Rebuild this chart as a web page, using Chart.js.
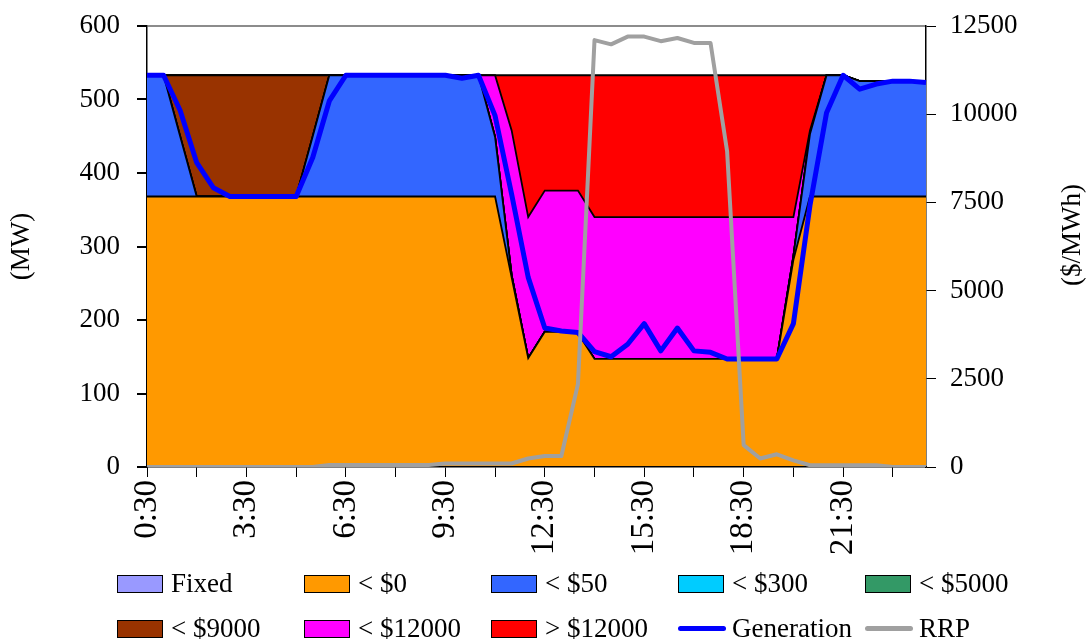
<!DOCTYPE html>
<html>
<head>
<meta charset="utf-8">
<script src="https://cdn.jsdelivr.net/npm/chart.js@4.4.1/dist/chart.umd.min.js"></script>
<style>
  html, body { margin: 0; padding: 0; background: #fff; }
  #wrap { position: relative; width: 1088px; height: 641px; overflow: hidden; }
  #chart { position: absolute; left: 0; top: 0; }
  #legend {
    position: absolute; left: 117px; top: 561px;
    display: grid; grid-template-columns: repeat(5, 187px);
    font-family: "Liberation Serif", serif; font-size: 27px; color: #000;
  }
  .item { display: flex; align-items: center; height: 45px; white-space: nowrap; }
  .box { width: 46px; height: 18px; border: 1.5px solid #000; box-sizing: border-box; margin-right: 8px; }
  .line { width: 48px; height: 5px; border-radius: 3px; margin-right: 6px; }
</style>
</head>
<body>
<div id="wrap">
  <canvas id="chart" width="1088" height="641"></canvas>
  <div id="legend"></div>
</div>
<script>
// half-hourly trading intervals
var timeLabels = ["0:30","1:00","1:30","2:00","2:30","3:00","3:30","4:00","4:30","5:00","5:30","6:00",
  "6:30","7:00","7:30","8:00","8:30","9:00","9:30","10:00","10:30","11:00","11:30","12:00",
  "12:30","13:00","13:30","14:00","14:30","15:00","15:30","16:00","16:30","17:00","17:30","18:00",
  "18:30","19:00","19:30","20:00","20:30","21:00","21:30","22:00","22:30","23:00","23:30","0:00"];

// offered capacity by price band (MW)
var fixedMW = [0,0,0,0,0,0,0,0,0,0,0,0,0,0,0,0,0,0,0,0,0,0,0,0,0,0,0,0,0,0,0,0,0,0,0,0,0,0,0,0,0,0,0,0,0,0,0,0];
var below0 = [368,368,368,368,368,368,368,368,368,368,368,368,368,368,368,368,368,368,368,368,368,368,
  258,148,184,184,182,147,147,147,147,147,147,147,147,147,147,147,147,282,368,368,368,368,368,368,368,368];
var below50 = [165,165,82,0,0,0,0,0,0,0,82,165,165,165,165,165,165,165,165,165,165,81,3,
  0,0,0,0,0,0,0,0,0,0,0,0,0,0,0,0,5,85,165,165,157,157,157,157,157];
var below300 = [0,0,0,0,0,0,0,0,0,0,0,0,0,0,0,0,0,0,0,0,0,0,0,0,0,0,0,0,0,0,0,0,0,0,0,0,0,0,0,0,0,0,0,0,0,0,0,0];
var below5000 = [0,0,0,0,0,0,0,0,0,0,0,0,0,0,0,0,0,0,0,0,0,0,0,0,0,0,0,0,0,0,0,0,0,0,0,0,0,0,0,0,0,0,0,0,0,0,0,0];
var below9000 = [0,0,83,165,165,165,165,165,165,165,83,0,0,0,0,0,0,0,0,0,0,0,0,0,
  0,0,0,0,0,0,0,0,0,0,0,0,0,0,0,0,0,0,0,0,0,0,0,0];
var below12000 = [0,0,0,0,0,0,0,0,0,0,0,0,0,0,0,0,0,0,0,0,0,84,197,192,192,192,194,
  193,193,193,193,193,193,193,193,193,193,193,193,53,5,0,0,0,0,0,0,0];
var above12000 = [0,0,0,0,0,0,0,0,0,0,0,0,0,0,0,0,0,0,0,0,0,0,75,193,157,157,157,
  193,193,193,193,193,193,193,193,193,193,193,193,193,75,0,0,0,0,0,0,0];

var generation = [533,533,485,414,380,368,368,368,368,368,421,498,533,533,533,533,533,533,533,529,533,478,
  371,258,189,185,183,157,150,167,195,158,189,158,156,147,147,147,147,195,356,482,533,514,521,525,525,523];
// regional reference price ($/MWh)
var rrp = [0,0,0,0,0,0,0,0,0,0,0,60,60,60,60,60,60,60,100,100,100,100,100,240,310,310,2350,
  12100,11980,12200,12200,12070,12160,12020,12020,8950,620,240,360,190,50,50,50,50,50,0,0,0];

var font = "Liberation Serif";

function areaSet(label, data, color, first) {
  return {
    label: label,
    data: data,
    backgroundColor: color,
    borderColor: "#000",
    borderWidth: 1.8,
    fill: first ? "origin" : "-1",
    pointRadius: 0,
    tension: 0,
    stack: "mw",
    order: 2,
    yAxisID: "y",
  };
}

// keep the label padding from pushing the plot area down
function fixPadding(scale) {
  scale.paddingTop = 10;
  scale.paddingBottom = 10;
}

// right hand axis title reads bottom to top, like the left one
var rightTitle = {
  id: "rightTitle",
  afterDraw: function (chart) {
    var ctx = chart.ctx;
    ctx.save();
    ctx.translate(1073, 235);
    ctx.rotate(-Math.PI / 2);
    ctx.font = "27px '" + font + "'";
    ctx.fillStyle = "#000";
    ctx.textAlign = "center";
    ctx.textBaseline = "middle";
    ctx.fillText("($/MWh)", 0, 0);
    ctx.restore();
  },
};

var ctx = document.getElementById("chart").getContext("2d");
var myChart = new Chart(ctx, {
  type: "line",
  data: {
    labels: timeLabels,
    datasets: [
      areaSet("Fixed", fixedMW, "#9999FF", true),
      areaSet("< $0", below0, "#FF9900"),
      areaSet("< $50", below50, "#3366FF"),
      areaSet("< $300", below300, "#00CCFF"),
      areaSet("< $5000", below5000, "#339966"),
      areaSet("< $9000", below9000, "#993300"),
      areaSet("< $12000", below12000, "#FF00FF"),
      areaSet("> $12000", above12000, "#FF0000"),
      {
        label: "Generation",
        data: generation,
        borderColor: "#0000FF",
        backgroundColor: "#0000FF",
        borderWidth: 5,
        borderJoinStyle: "round",
        fill: false,
        pointRadius: 0,
        tension: 0,
        stack: "gen",
        order: 1,
        yAxisID: "y",
      },
      {
        label: "RRP",
        data: rrp,
        borderColor: "#A0A0A0",
        backgroundColor: "#A0A0A0",
        borderWidth: 4,
        borderJoinStyle: "round",
        fill: false,
        pointRadius: 0,
        tension: 0,
        order: 0,
        yAxisID: "y1",
      },
    ],
  },
  options: {
    responsive: false,
    animation: false,
    devicePixelRatio: 1,
    layout: { padding: { top: 26, left: 0, right: 0, bottom: 0 } },
    plugins: { legend: { display: false }, tooltip: { enabled: false } },
    scales: {
      x: {
        grid: {
          drawOnChartArea: false,
          tickLength: 10,
          tickColor: function (c) { return c.index % 3 === 0 ? "#000" : "rgba(0,0,0,0)"; },
        },
        border: { color: "#000", width: 1.5 },
        ticks: {
          autoSkip: false,
          maxRotation: 90,
          minRotation: 90,
          padding: 3,
          color: "#000",
          font: { family: font, size: 33 },
          callback: function (value, index) {
            return index % 6 === 0 ? timeLabels[index] : "";
          },
        },
        afterFit: function (scale) { scale.height = 641 - 467; },
      },
      y: {
        stacked: true,
        min: 0,
        max: 600,
        grid: {
          color: function (c) { return c.tick && c.tick.value === 600 ? "#8C8C8C" : "rgba(0,0,0,0)"; },
          lineWidth: 2,
          tickColor: "#000",
          tickLength: 10,
        },
        border: { color: "#000", width: 1.5 },
        ticks: { stepSize: 100, padding: 17, color: "#000", font: { family: font, size: 27 } },
        title: { display: true, text: "(MW)", color: "#000", padding: 6, font: { family: font, size: 27 } },
        afterFit: function (scale) { scale.width = 147; fixPadding(scale); },
      },
      y1: {
        position: "right",
        min: 0,
        max: 12500,
        grid: { drawOnChartArea: false, tickColor: "#000", tickLength: 10 },
        border: { color: "#000", width: 1.5 },
        ticks: {
          stepSize: 2500,
          padding: 14,
          color: "#000",
          font: { family: font, size: 27 },
          callback: function (value) { return String(value); },
        },
        afterFit: function (scale) { scale.width = 1088 - 926; fixPadding(scale); },
      },
    },
  },
  plugins: [rightTitle],
});

// legend laid out as a 5 column grid, like the original
var legend = document.getElementById("legend");
myChart.data.datasets.forEach(function (ds) {
  var item = document.createElement("div");
  item.className = "item";
  var mark = document.createElement("span");
  if (ds.fill === false) {
    mark.className = "line";
    mark.style.background = ds.borderColor;
  } else {
    mark.className = "box";
    mark.style.background = ds.backgroundColor;
  }
  var text = document.createElement("span");
  text.textContent = ds.label;
  item.appendChild(mark);
  item.appendChild(text);
  legend.appendChild(item);
});
</script>
</body>
</html>
